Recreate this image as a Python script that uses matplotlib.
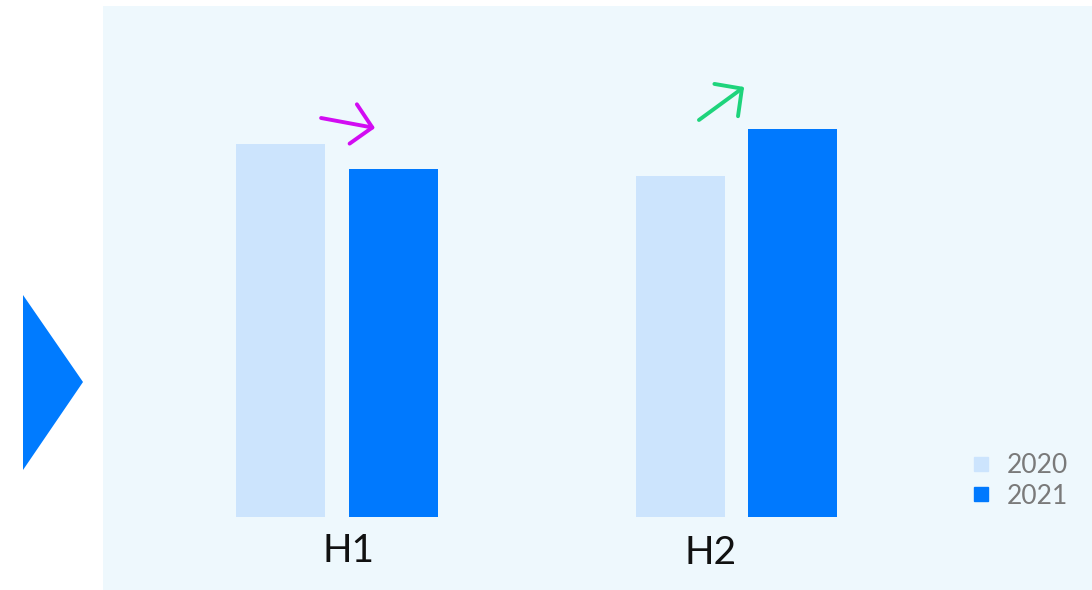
import matplotlib
matplotlib.use("Agg")
import matplotlib.pyplot as plt
from matplotlib.lines import Line2D
from matplotlib.patches import Polygon, Rectangle
import numpy as np

plt.rcParams['font.family'] = ['Lato', 'DejaVu Sans']

# Half-year values, two years side by side
halves = ["H1", "H2"]
years = ["2020", "2021"]
values_2020 = [373, 341]
values_2021 = [348, 388]

# category labels sit a little off the group centres
label_shift = [0.028, -0.066]
label_drop = [34, 36]

# Trend arrows above each group: (dx0, dy0, dx1, dy1) relative to group centre / tallest bar
arrow_colors = ["#d20cf2", "#1ed47c"]
arrow_offsets = [(-0.04, 26, 0.095, 16), (-0.094, 9, 0.019, 42)]

light_blue = "#cce4fd"
strong_blue = "#0079fe"
panel_bg = "#eef8fd"

W, H = 1092, 590
fig = plt.figure(figsize=(W / 100, H / 100), dpi=100)
fig.patch.set_facecolor("white")

# light panel behind the chart
fig.add_artist(Rectangle((103 / W, 0), 1 - 103 / W, (H - 6) / H,
                         transform=fig.transFigure, facecolor=panel_bg,
                         edgecolor="none", zorder=0))

# pointer triangle on the left
tri = [(23, 295), (83, 382), (23, 470)]
fig.add_artist(Polygon([(x / W, (H - y) / H) for x, y in tri], closed=True,
                       transform=fig.transFigure, facecolor="#007bff",
                       edgecolor="none", zorder=1))

ax = fig.add_axes([103 / W, (H - 517) / H, 989 / W, 512 / H])
ax.set_facecolor("none")
ax.set_zorder(2)

x = np.arange(len(halves))
width = 0.223
offset = 0.141
ax.bar(x - offset, values_2020, width, color=light_blue, label=years[0])
ax.bar(x + offset, values_2021, width, color=strong_blue, label=years[1])

ax.set_xlim(-0.586, 1.890)
ax.set_ylim(0, 512)
for s in ax.spines.values():
    s.set_visible(False)
ax.set_xticks([])
ax.set_yticks([])

for xi, lab, sh, dr in zip(x, halves, label_shift, label_drop):
    ax.text(xi + sh, -dr, lab, ha="center", va="center", fontsize=28,
            color="#111111", clip_on=False)

for i, (col, (dx0, dy0, dx1, dy1)) in enumerate(zip(arrow_colors, arrow_offsets)):
    top = max(values_2020[i], values_2021[i])
    ax.annotate("", xy=(x[i] + dx1, top + dy1), xytext=(x[i] + dx0, top + dy0),
                arrowprops=dict(arrowstyle="->, head_length=1.4, head_width=1.44",
                                color=col, lw=2.8, mutation_scale=10,
                                shrinkA=0, shrinkB=0))

handles = [Line2D([], [], marker="s", ls="", color=c, markersize=10.5)
           for c in (light_blue, strong_blue)]
leg = fig.legend(handles, years, loc="center left",
                 bbox_to_anchor=(955 / W, (H - 481) / H), frameon=False,
                 fontsize=19, labelcolor="#7a7a7a", handlelength=1.0,
                 handletextpad=0.45, labelspacing=0.2, borderpad=0)

fig.savefig("out.png", dpi=100)
